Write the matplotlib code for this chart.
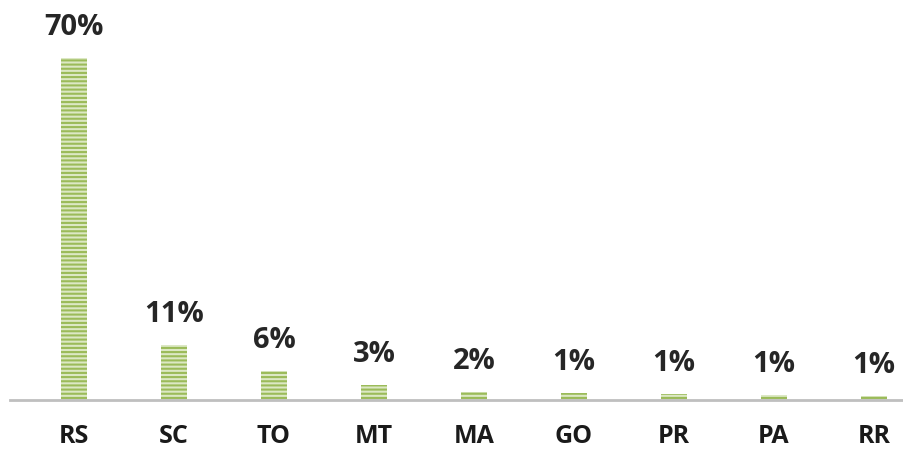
import matplotlib.pyplot as plt

states = ["RS", "SC", "TO", "MT", "MA", "GO", "PR", "PA", "RR"]
shares = [70.0, 11.3, 5.9, 3.1, 1.6, 1.4, 1.3, 1.1, 0.9]
labels = ["70%", "11%", "6%", "3%", "2%", "1%", "1%", "1%", "1%"]

plt.rcParams["font.family"] = ["Open Sans", "DejaVu Sans"]
plt.rcParams["hatch.linewidth"] = 1.5

fig = plt.figure(figsize=(9.04, 4.51), dpi=100)
ax = fig.add_axes([10 / 904, 51 / 451, 1 - 10 / 904, 400 / 451])

x = range(len(states))
ax.bar(x, shares, width=0.26, color="#DCE8C4", edgecolor="#9BBB59",
       linewidth=0, hatch="----")

for xi, v, lab in zip(x, shares, labels):
    ax.annotate(lab, (xi, v), xytext=(0, 16), textcoords="offset pixels",
                ha="center", va="bottom", fontsize=21, fontweight="bold",
                color="#262626", annotation_clip=False)

ax.set_xlim(-0.64, 8.3)
ax.set_ylim(0, 70 * 400 / 342)
ax.set_xticks(list(x))
ax.set_xticklabels(states, fontsize=18, fontweight="bold", color="#1a1a1a")
ax.tick_params(axis="x", length=0, pad=17)
ax.set_yticks([])
for side in ["top", "right", "left"]:
    ax.spines[side].set_visible(False)
ax.spines["bottom"].set_color("#BFBFBF")
ax.spines["bottom"].set_linewidth(2)

fig.savefig("out.png", dpi=100)
